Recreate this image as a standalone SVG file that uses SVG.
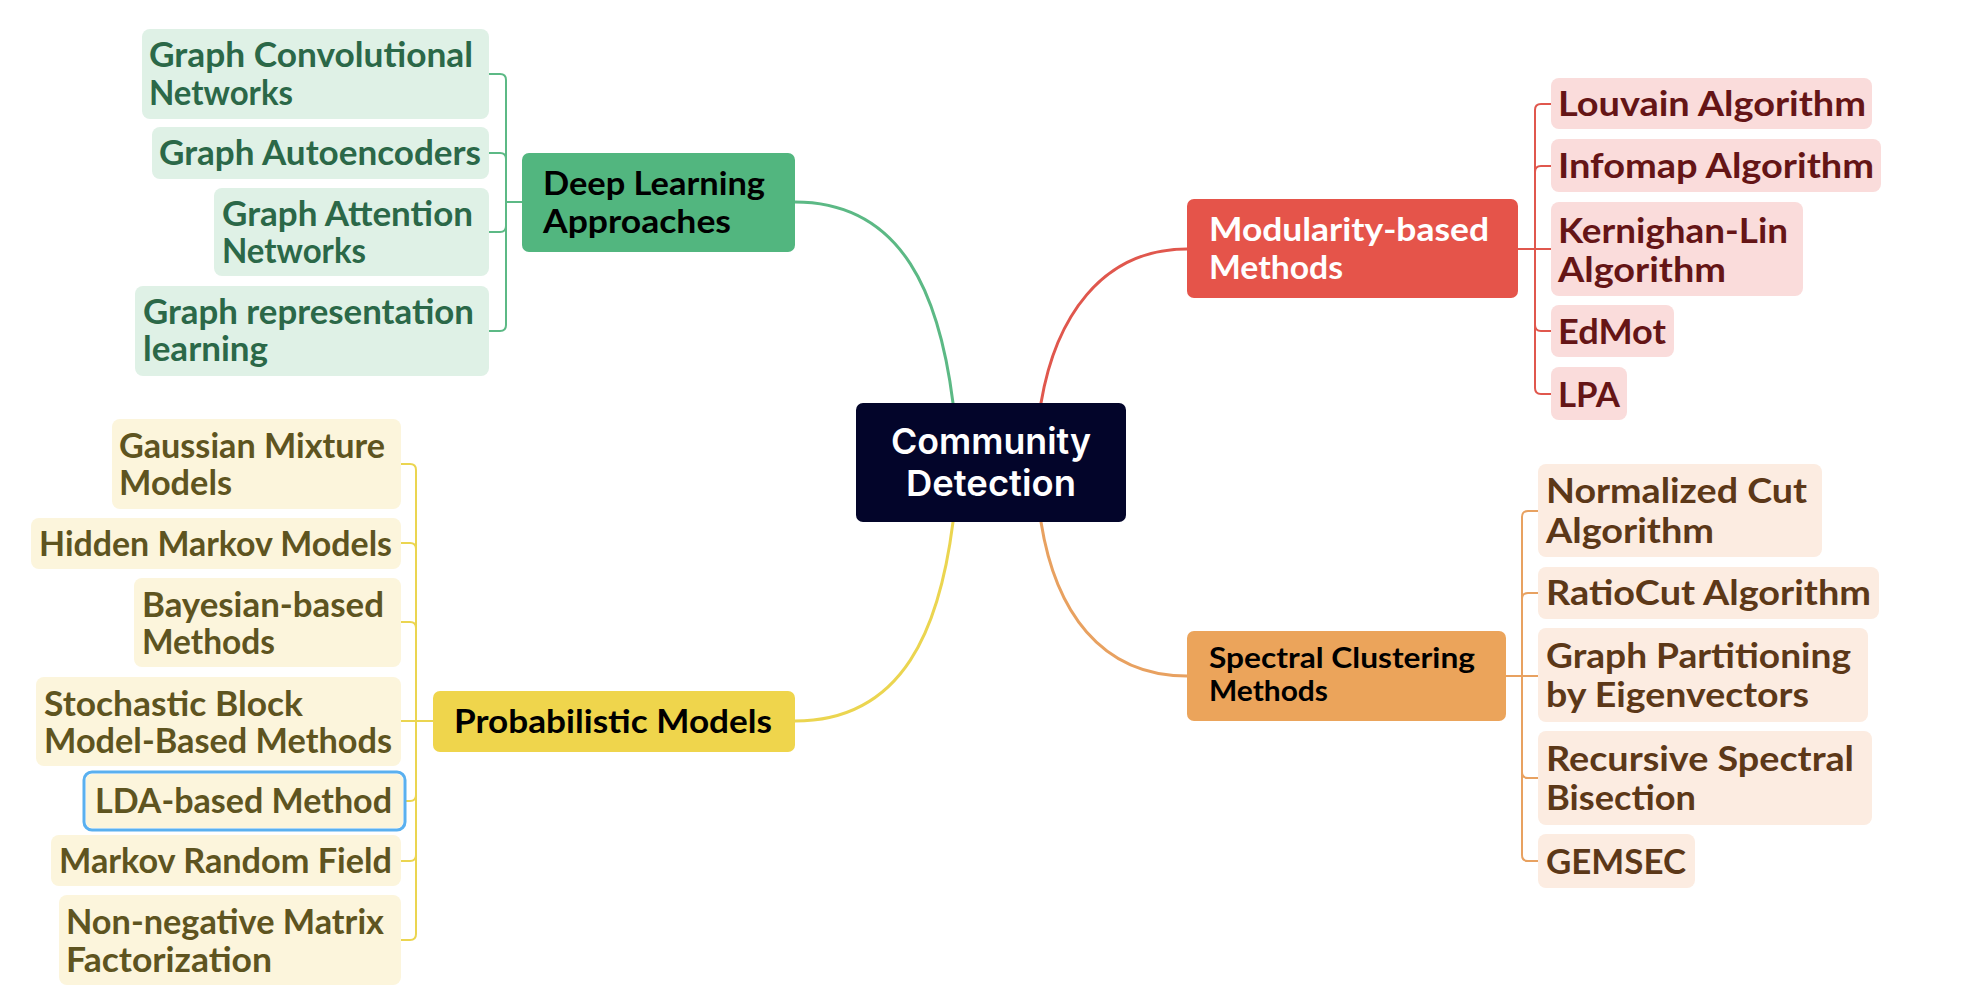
<svg xmlns="http://www.w3.org/2000/svg" width="1966" height="1002" viewBox="0 0 1966 1002">
  <style>
    .t { font-family: Lato, "Open Sans", sans-serif; font-weight: 700; font-size: 34px; }
    .main { font-family: Lato, "Open Sans", sans-serif; font-weight: 700; font-size: 33px; }
    .small { font-size: 28px; }
    .root { font-family: Inter, "Noto Sans", sans-serif; font-weight: 600; font-size: 36px; fill: #ffffff; }
    .g-box { fill: #dff1e6; }
    .g-txt { fill: #2b6848; }
    .y-box { fill: #fcf5dc; }
    .y-txt { fill: #5e5420; }
    .r-box { fill: #fadcdb; }
    .r-txt { fill: #651516; }
    .o-box { fill: #fcece1; }
    .o-txt { fill: #5c3818; }
    .link { fill: none; stroke-width: 3; stroke-linecap: round; }
    .br { fill: none; stroke-width: 2; }
    .g { stroke: #5cb985; }
    .y { stroke: #ebd550; }
    .r { stroke: #e0574d; }
    .o { stroke: #e8a160; }
  </style>

  <rect width="1966" height="1002" fill="#ffffff"/>

  <!-- connectors -->
  <g id="connectors">
    <path class="link g" d="M795,202 C905,202 940,300 953,403"/>
    <path class="link r" d="M1041,403 C1055,320 1100,249 1187,249"/>
    <path class="link y" d="M953,522 C940,625 905,721 795,721"/>
    <path class="link o" d="M1041,522 C1055,610 1100,676 1187,676"/>

    <!-- deep learning bracket -->
    <path class="br g" d="M522,202 H506"/>
    <path class="br g" d="M506,202 V80 Q506,74 500,74 H489"/>
    <path class="br g" d="M506,202 V159 Q506,153 500,153 H489"/>
    <path class="br g" d="M506,202 V226 Q506,232 500,232 H489"/>
    <path class="br g" d="M506,202 V325 Q506,331 500,331 H489"/>

    <!-- probabilistic bracket -->
    <path class="br y" d="M433,721 H416"/>
    <path class="br y" d="M416,721 V470 Q416,464 410,464 H401"/>
    <path class="br y" d="M416,721 V549 Q416,543 410,543 H401"/>
    <path class="br y" d="M416,721 V628 Q416,622 410,622 H401"/>
    <path class="br y" d="M416,721 H401"/>
    <path class="br y" d="M416,721 V795 Q416,801 410,801 H406"/>
    <path class="br y" d="M416,721 V855 Q416,861 410,861 H401"/>
    <path class="br y" d="M416,721 V934 Q416,940 410,940 H401"/>

    <!-- modularity bracket -->
    <path class="br r" d="M1518,249 H1535"/>
    <path class="br r" d="M1535,249 V110 Q1535,104 1541,104 H1551"/>
    <path class="br r" d="M1535,249 V172 Q1535,166 1541,166 H1551"/>
    <path class="br r" d="M1535,249 H1551"/>
    <path class="br r" d="M1535,249 V325 Q1535,331 1541,331 H1551"/>
    <path class="br r" d="M1535,249 V388 Q1535,394 1541,394 H1551"/>

    <!-- spectral bracket -->
    <path class="br o" d="M1506,676 H1522"/>
    <path class="br o" d="M1522,676 V517 Q1522,511 1528,511 H1538"/>
    <path class="br o" d="M1522,676 V599 Q1522,593 1528,593 H1538"/>
    <path class="br o" d="M1522,676 H1538"/>
    <path class="br o" d="M1522,676 V772 Q1522,778 1528,778 H1538"/>
    <path class="br o" d="M1522,676 V855 Q1522,861 1528,861 H1538"/>
  </g>

  <!-- root -->
  <g id="community-detection">
    <rect x="856" y="403" width="270" height="119" rx="7" fill="#03052a"/>
    <text class="root" x="991" y="454" text-anchor="middle" textLength="200" lengthAdjust="spacingAndGlyphs">Community</text>
    <text class="root" x="991" y="496" text-anchor="middle" textLength="170" lengthAdjust="spacingAndGlyphs">Detection</text>
  </g>

  <!-- deep learning branch -->
  <g id="deep-learning">
    <rect x="522" y="153" width="273" height="99" rx="7" fill="#52b67f"/>
    <text class="main" x="543" y="195" fill="#000000" textLength="222" lengthAdjust="spacingAndGlyphs">Deep Learning</text>
    <text class="main" x="543" y="233" fill="#000000" textLength="188" lengthAdjust="spacingAndGlyphs">Approaches</text>
  </g>
  <g id="gcn">
    <rect class="g-box" x="142" y="29" width="347" height="90" rx="8"/>
    <text class="t g-txt" x="149" y="67" textLength="324" lengthAdjust="spacingAndGlyphs">Graph Convolutional</text>
    <text class="t g-txt" x="149" y="105" textLength="144" lengthAdjust="spacingAndGlyphs">Networks</text>
  </g>
  <g id="gae">
    <rect class="g-box" x="152" y="127" width="337" height="52" rx="8"/>
    <text class="t g-txt" x="159" y="165" textLength="322" lengthAdjust="spacingAndGlyphs">Graph Autoencoders</text>
  </g>
  <g id="gat">
    <rect class="g-box" x="214" y="188" width="275" height="88" rx="8"/>
    <text class="t g-txt" x="222" y="226" textLength="251" lengthAdjust="spacingAndGlyphs">Graph Attention</text>
    <text class="t g-txt" x="222" y="263" textLength="144" lengthAdjust="spacingAndGlyphs">Networks</text>
  </g>
  <g id="grl">
    <rect class="g-box" x="135" y="286" width="354" height="90" rx="8"/>
    <text class="t g-txt" x="143" y="324" textLength="331" lengthAdjust="spacingAndGlyphs">Graph representation</text>
    <text class="t g-txt" x="143" y="361" textLength="125" lengthAdjust="spacingAndGlyphs">learning</text>
  </g>

  <!-- probabilistic branch -->
  <g id="probabilistic">
    <rect x="433" y="691" width="362" height="61" rx="7" fill="#efd54c"/>
    <text class="main" x="454" y="733" fill="#000000" textLength="318" lengthAdjust="spacingAndGlyphs">Probabilistic Models</text>
  </g>
  <g id="gmm">
    <rect class="y-box" x="112" y="419" width="289" height="90" rx="8"/>
    <text class="t y-txt" x="119" y="458" textLength="266" lengthAdjust="spacingAndGlyphs">Gaussian Mixture</text>
    <text class="t y-txt" x="119" y="495" textLength="113" lengthAdjust="spacingAndGlyphs">Models</text>
  </g>
  <g id="hmm">
    <rect class="y-box" x="31" y="518" width="370" height="51" rx="8"/>
    <text class="t y-txt" x="39" y="556" textLength="353" lengthAdjust="spacingAndGlyphs">Hidden Markov Models</text>
  </g>
  <g id="bayesian">
    <rect class="y-box" x="134" y="578" width="267" height="89" rx="8"/>
    <text class="t y-txt" x="142" y="617" textLength="242" lengthAdjust="spacingAndGlyphs">Bayesian-based</text>
    <text class="t y-txt" x="142" y="654" textLength="133" lengthAdjust="spacingAndGlyphs">Methods</text>
  </g>
  <g id="sbm">
    <rect class="y-box" x="36" y="677" width="365" height="89" rx="8"/>
    <text class="t y-txt" x="44" y="716" textLength="259" lengthAdjust="spacingAndGlyphs">Stochastic Block</text>
    <text class="t y-txt" x="44" y="753" textLength="348" lengthAdjust="spacingAndGlyphs">Model-Based Methods</text>
  </g>
  <g id="lda">
    <rect class="y-box" x="86" y="774" width="317" height="54" rx="6"/>
    <rect x="84" y="772" width="321" height="58" rx="8" fill="none" stroke="#5ab0ef" stroke-width="3"/>
    <text class="t y-txt" x="95" y="813" textLength="297" lengthAdjust="spacingAndGlyphs">LDA-based Method</text>
  </g>
  <g id="mrf">
    <rect class="y-box" x="51" y="835" width="350" height="51" rx="8"/>
    <text class="t y-txt" x="59" y="873" textLength="333" lengthAdjust="spacingAndGlyphs">Markov Random Field</text>
  </g>
  <g id="nmf">
    <rect class="y-box" x="59" y="895" width="342" height="90" rx="8"/>
    <text class="t y-txt" x="66" y="934" textLength="318" lengthAdjust="spacingAndGlyphs">Non-negative Matrix</text>
    <text class="t y-txt" x="66" y="972" textLength="206" lengthAdjust="spacingAndGlyphs">Factorization</text>
  </g>

  <!-- modularity branch -->
  <g id="modularity">
    <rect x="1187" y="199" width="331" height="99" rx="7" fill="#e5544a"/>
    <text class="main" x="1209" y="241" fill="#ffffff" textLength="280" lengthAdjust="spacingAndGlyphs">Modularity-based</text>
    <text class="main" x="1209" y="279" fill="#ffffff" textLength="134" lengthAdjust="spacingAndGlyphs">Methods</text>
  </g>
  <g id="louvain">
    <rect class="r-box" x="1551" y="78" width="321" height="51" rx="8"/>
    <text class="t r-txt" x="1558" y="116" textLength="308" lengthAdjust="spacingAndGlyphs">Louvain Algorithm</text>
  </g>
  <g id="infomap">
    <rect class="r-box" x="1551" y="139" width="330" height="53" rx="8"/>
    <text class="t r-txt" x="1558" y="178" textLength="316" lengthAdjust="spacingAndGlyphs">Infomap Algorithm</text>
  </g>
  <g id="kernighan-lin">
    <rect class="r-box" x="1551" y="202" width="252" height="94" rx="8"/>
    <text class="t r-txt" x="1558" y="243" textLength="230" lengthAdjust="spacingAndGlyphs">Kernighan-Lin</text>
    <text class="t r-txt" x="1558" y="282" textLength="168" lengthAdjust="spacingAndGlyphs">Algorithm</text>
  </g>
  <g id="edmot">
    <rect class="r-box" x="1551" y="305" width="123" height="52" rx="8"/>
    <text class="t r-txt" x="1558" y="344" textLength="108" lengthAdjust="spacingAndGlyphs">EdMot</text>
  </g>
  <g id="lpa">
    <rect class="r-box" x="1551" y="367" width="76" height="53" rx="8"/>
    <text class="t r-txt" x="1558" y="407" textLength="62" lengthAdjust="spacingAndGlyphs">LPA</text>
  </g>

  <!-- spectral branch -->
  <g id="spectral">
    <rect x="1187" y="631" width="319" height="90" rx="7" fill="#eba45b"/>
    <text class="main small" x="1209" y="668" fill="#000000" textLength="266" lengthAdjust="spacingAndGlyphs">Spectral Clustering</text>
    <text class="main small" x="1209" y="701" fill="#000000" textLength="119" lengthAdjust="spacingAndGlyphs">Methods</text>
  </g>
  <g id="ncut">
    <rect class="o-box" x="1538" y="464" width="284" height="93" rx="8"/>
    <text class="t o-txt" x="1546" y="503" textLength="261" lengthAdjust="spacingAndGlyphs">Normalized Cut</text>
    <text class="t o-txt" x="1546" y="543" textLength="168" lengthAdjust="spacingAndGlyphs">Algorithm</text>
  </g>
  <g id="ratiocut">
    <rect class="o-box" x="1538" y="567" width="341" height="52" rx="8"/>
    <text class="t o-txt" x="1546" y="605" textLength="325" lengthAdjust="spacingAndGlyphs">RatioCut Algorithm</text>
  </g>
  <g id="eigen">
    <rect class="o-box" x="1538" y="628" width="330" height="94" rx="8"/>
    <text class="t o-txt" x="1546" y="668" textLength="305" lengthAdjust="spacingAndGlyphs">Graph Partitioning</text>
    <text class="t o-txt" x="1546" y="707" textLength="263" lengthAdjust="spacingAndGlyphs">by Eigenvectors</text>
  </g>
  <g id="rsb">
    <rect class="o-box" x="1538" y="731" width="334" height="94" rx="8"/>
    <text class="t o-txt" x="1546" y="771" textLength="308" lengthAdjust="spacingAndGlyphs">Recursive Spectral</text>
    <text class="t o-txt" x="1546" y="810" textLength="150" lengthAdjust="spacingAndGlyphs">Bisection</text>
  </g>
  <g id="gemsec">
    <rect class="o-box" x="1538" y="834" width="157" height="54" rx="8"/>
    <text class="t o-txt" x="1546" y="874" textLength="140" lengthAdjust="spacingAndGlyphs">GEMSEC</text>
  </g>
</svg>
